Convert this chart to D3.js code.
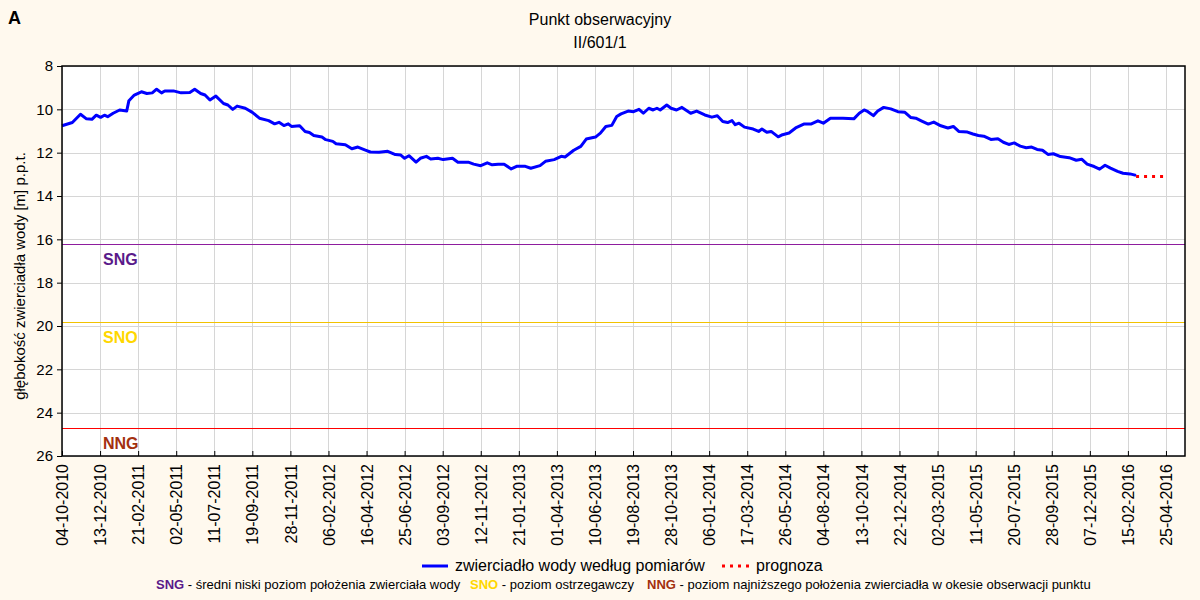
<!DOCTYPE html>
<html>
<head>
<meta charset="utf-8">
<script src="https://cdn.jsdelivr.net/npm/d3@7"></script>
<style>
  html, body { margin: 0; padding: 0; background: #FFF9EE; }
  svg { display: block; }
  text { font-family: "Liberation Sans", Arial, sans-serif; }
</style>
</head>
<body>
<svg id="chart" width="1200" height="600"></svg>
<script>
// ---------- data ----------
const titleLines = ["Punkt obserwacyjny", "II/601/1"];
const panelLetter = "A";
const yAxisTitle = "głębokość zwierciadła wody [m] p.p.t.";

const measureDates = [
  "2010-10-04","2010-10-23","2010-11-07","2010-11-18","2010-11-28","2010-12-06","2010-12-14","2010-12-21","2010-12-27",
  "2011-01-06","2011-01-18","2011-01-31","2011-02-04","2011-02-14","2011-02-27","2011-03-09","2011-03-19","2011-03-27",
  "2011-04-05","2011-04-11","2011-04-27","2011-05-11","2011-05-27","2011-06-05","2011-06-16","2011-06-24","2011-07-03",
  "2011-07-14","2011-07-28","2011-08-05","2011-08-14","2011-08-22","2011-09-06","2011-09-19","2011-10-02","2011-10-19",
  "2011-10-30","2011-11-07","2011-11-16","2011-11-24","2011-11-30","2011-12-15","2011-12-25","2012-01-02","2012-01-10",
  "2012-01-25","2012-02-01","2012-02-14","2012-02-20","2012-03-08","2012-03-20","2012-03-31","2012-04-15","2012-04-23",
  "2012-05-09","2012-05-25","2012-06-08","2012-06-18","2012-06-25","2012-07-03","2012-07-16","2012-07-24","2012-08-04",
  "2012-08-12","2012-08-25","2012-09-04","2012-09-21","2012-10-01","2012-10-20","2012-10-30","2012-11-12","2012-11-24",
  "2012-12-03","2012-12-14","2012-12-25","2013-01-07","2013-01-17","2013-02-02","2013-02-12","2013-03-01","2013-03-11",
  "2013-03-27","2013-04-09","2013-04-16","2013-05-02","2013-05-15","2013-05-25","2013-06-11","2013-06-20","2013-06-30",
  "2013-07-11","2013-07-20","2013-07-28","2013-08-10","2013-08-20","2013-08-30","2013-09-07","2013-09-17","2013-09-25",
  "2013-10-02","2013-10-08","2013-10-20","2013-10-28","2013-11-07","2013-11-17","2013-12-03","2013-12-14","2013-12-29",
  "2014-01-11","2014-01-21","2014-01-31","2014-02-09","2014-02-17","2014-02-23","2014-03-02","2014-03-12","2014-03-28",
  "2014-04-07","2014-04-13","2014-04-22","2014-04-30","2014-05-13","2014-05-21","2014-06-02","2014-06-14","2014-06-29",
  "2014-07-12","2014-07-25","2014-08-04","2014-08-17","2014-08-30","2014-09-09","2014-09-29","2014-10-09","2014-10-18",
  "2014-10-25","2014-11-04","2014-11-12","2014-11-23","2014-12-06","2014-12-19","2015-01-01","2015-01-12","2015-01-21",
  "2015-01-31","2015-02-13","2015-02-23","2015-03-08","2015-03-21","2015-03-31","2015-04-10","2015-04-26","2015-05-06",
  "2015-05-16","2015-05-26","2015-06-08","2015-06-21","2015-07-01","2015-07-11","2015-07-21","2015-08-01","2015-08-12",
  "2015-08-22","2015-09-01","2015-09-11","2015-09-21","2015-10-01","2015-10-14","2015-10-30","2015-11-12","2015-11-22",
  "2015-12-02","2015-12-15","2015-12-25","2016-01-04","2016-01-14","2016-01-27","2016-02-06","2016-02-19","2016-03-01"
];
const measureLevels = [
  10.76,10.61,10.23,10.44,10.46,10.27,10.37,10.27,10.34,
  10.18,10.03,10.08,9.60,9.34,9.19,9.27,9.24,9.07,
  9.24,9.15,9.15,9.24,9.22,9.07,9.27,9.34,9.57,
  9.39,9.73,9.80,10.00,9.85,9.95,10.14,10.41,10.52,
  10.67,10.60,10.75,10.67,10.79,10.76,11.02,11.07,11.21,
  11.28,11.40,11.48,11.59,11.63,11.82,11.74,11.89,11.97,
  11.98,11.94,12.09,12.11,12.26,12.14,12.44,12.26,12.17,
  12.29,12.26,12.32,12.26,12.44,12.44,12.53,12.60,12.47,
  12.56,12.53,12.53,12.75,12.63,12.63,12.72,12.60,12.40,
  12.32,12.17,12.20,11.89,11.71,11.37,11.28,11.10,10.79,
  10.74,10.33,10.21,10.08,10.11,10.00,10.18,9.95,10.03,
  9.95,10.03,9.80,9.95,10.03,9.91,10.18,10.08,10.26,
  10.36,10.30,10.56,10.61,10.52,10.71,10.64,10.82,10.91,
  11.02,10.91,11.06,11.02,11.27,11.17,11.09,10.86,10.68,
  10.68,10.53,10.64,10.41,10.41,10.41,10.44,10.18,10.03,
  10.11,10.29,10.08,9.91,9.98,10.11,10.14,10.38,10.41,
  10.53,10.68,10.59,10.76,10.86,10.79,11.02,11.05,11.14,
  11.21,11.24,11.39,11.36,11.52,11.62,11.55,11.70,11.77,
  11.74,11.85,11.89,12.08,12.05,12.18,12.23,12.35,12.30,
  12.53,12.64,12.76,12.58,12.71,12.86,12.95,12.98,13.05
];
const forecastDates = ["2016-03-01", "2016-04-25"];
const forecastLevels = [13.1, 13.1];

const refNames = ["SNG", "SNO", "NNG"];
const refLevels = [16.2, 19.8, 24.7];
const refLineColors = ["#8E1D9E", "#F2C200", "#FF0000"];
const refLabelColors = ["#5A1A8A", "#FFD700", "#A3300F"];

const xTickLabels = [
  "04-10-2010","13-12-2010","21-02-2011","02-05-2011","11-07-2011","19-09-2011","28-11-2011","06-02-2012",
  "16-04-2012","25-06-2012","03-09-2012","12-11-2012","21-01-2013","01-04-2013","10-06-2013","19-08-2013",
  "28-10-2013","06-01-2014","17-03-2014","26-05-2014","04-08-2014","13-10-2014","22-12-2014","02-03-2015",
  "11-05-2015","20-07-2015","28-09-2015","07-12-2015","15-02-2016","25-04-2016"
];
const xDomain = ["2010-10-04", "2016-05-30"];
const yTicks = [8, 10, 12, 14, 16, 18, 20, 22, 24, 26];

const legendItems = ["zwierciadło wody według pomiarów", "prognoza"];
const noteItems = [
  ["SNG", " - średni niski poziom położenia zwierciała wody"],
  ["SNO", " - poziom ostrzegawczy"],
  ["NNG", " - poziom najniższego położenia zwierciadła w okesie obserwacji punktu"]
];

// ---------- layout ----------
const svg = d3.select("#chart");
const W = 1200, H = 600;
const m = { left: 62, right: 15, top: 66, bottom: 144 };
const iw = W - m.left - m.right, ih = H - m.top - m.bottom;

const parseISO = d3.timeParse("%Y-%m-%d");
const parseTick = d3.timeParse("%d-%m-%Y");
const fmtTick = d3.timeFormat("%d-%m-%Y");

const x = d3.scaleTime().domain(xDomain.map(parseISO)).range([0, iw]);
const y = d3.scaleLinear().domain([8, 26]).range([0, ih]);
const crisp = v => Math.round(v) + 0.5;

svg.append("rect").attr("width", W).attr("height", H).attr("fill", "#FFF9EE");

// panel letter
svg.append("text").attr("x", 8).attr("y", 24).attr("font-size", 18).attr("font-weight", "bold")
  .attr("fill", "#000").text(panelLetter);

// title
svg.selectAll("text.title").data(titleLines).join("text").attr("class", "title")
  .attr("x", 600).attr("y", (d, i) => 25 + i * 23).attr("text-anchor", "middle")
  .attr("font-size", 16).attr("fill", "#000").text(d => d);

const g = svg.append("g").attr("transform", `translate(${m.left},${m.top})`);
g.append("rect").attr("width", iw).attr("height", ih).attr("fill", "#fff");

const tickDates = xTickLabels.map(parseTick);

// grid
g.append("g").attr("transform", `translate(0,${ih})`)
  .call(d3.axisBottom(x).tickValues(tickDates).tickSize(-ih).tickFormat(""))
  .call(s => s.select(".domain").remove())
  .call(s => s.selectAll("line").attr("stroke", "#D6D6D6").attr("shape-rendering", "crispEdges"));
g.append("g")
  .call(d3.axisLeft(y).tickValues(yTicks).tickSize(-iw).tickFormat(""))
  .call(s => s.select(".domain").remove())
  .call(s => s.selectAll("line").attr("stroke", "#D6D6D6").attr("shape-rendering", "crispEdges"));

// reference lines
refLevels.forEach((v, i) => {
  g.append("line").attr("x1", 0).attr("x2", iw).attr("y1", crisp(y(v))).attr("y2", crisp(y(v)))
    .attr("stroke", refLineColors[i]).attr("stroke-width", 1).attr("shape-rendering", "crispEdges");
  g.append("text").attr("x", 41).attr("y", y(v) + 21)
    .attr("font-size", 16).attr("font-weight", "bold").attr("fill", refLabelColors[i])
    .text(refNames[i]);
});

// measured line
const measured = measureDates.map((d, i) => ({ date: parseISO(d), v: measureLevels[i] }));
const forecast = forecastDates.map((d, i) => ({ date: parseISO(d), v: forecastLevels[i] }));
const line = d3.line().x(d => x(d.date)).y(d => y(d.v));

g.append("path").datum(measured).attr("d", line).attr("fill", "none")
  .attr("stroke", "#0000FF").attr("stroke-width", 3).attr("stroke-linejoin", "round");
g.append("path").datum(forecast).attr("d", line).attr("fill", "none")
  .attr("stroke", "#FF0000").attr("stroke-width", 3).attr("stroke-dasharray", "3,5");

// frame
g.append("rect").attr("width", iw).attr("height", ih).attr("fill", "none")
  .attr("stroke", "#000").attr("stroke-width", 1.5);

// x axis
const xAxisG = g.append("g").attr("transform", `translate(0,${ih})`)
  .call(d3.axisBottom(x).tickValues(tickDates).tickSize(-5).tickFormat(fmtTick));
xAxisG.select(".domain").remove();
xAxisG.selectAll("line").attr("stroke", "#000");
xAxisG.selectAll("text")
  .attr("font-family", "Liberation Sans, Arial, sans-serif")
  .attr("font-size", 16).attr("fill", "#000")
  .attr("transform", "rotate(-90)")
  .attr("text-anchor", "end")
  .attr("x", -8).attr("y", 0).attr("dy", "0.35em");

// y axis
const yAxisG = g.append("g")
  .call(d3.axisLeft(y).tickValues(yTicks).tickSize(5).tickPadding(4).tickFormat(d3.format("d")));
yAxisG.select(".domain").remove();
yAxisG.selectAll("line").attr("stroke", "#000");
yAxisG.selectAll("text").attr("font-family", "Liberation Sans, Arial, sans-serif")
  .attr("font-size", 15).attr("fill", "#000");

// y title
svg.append("text").attr("transform", `translate(25,${m.top + ih / 2 + 15}) rotate(-90)`)
  .attr("text-anchor", "middle").attr("font-size", 15).attr("fill", "#000").text(yAxisTitle);

// legend
const lg = svg.append("g");
lg.append("line").attr("x1", 422).attr("x2", 448).attr("y1", 566).attr("y2", 566)
  .attr("stroke", "#0000FF").attr("stroke-width", 3);
lg.append("text").attr("x", 455).attr("y", 571).attr("font-size", 16).attr("fill", "#000").text(legendItems[0]);
lg.append("line").attr("x1", 722).attr("x2", 750).attr("y1", 566).attr("y2", 566)
  .attr("stroke", "#FF0000").attr("stroke-width", 3).attr("stroke-dasharray", "3,5");
lg.append("text").attr("x", 756).attr("y", 571).attr("font-size", 16).attr("fill", "#000").text(legendItems[1]);

// note
const noteX = [156, 470, 647];
noteItems.forEach((it, i) => {
  const t = svg.append("text").attr("x", noteX[i]).attr("y", 589).attr("font-size", 13);
  t.append("tspan").attr("font-weight", "bold").attr("fill", refLabelColors[i]).text(it[0]);
  t.append("tspan").attr("fill", "#000").text(it[1]);
});
</script>
</body>
</html>
